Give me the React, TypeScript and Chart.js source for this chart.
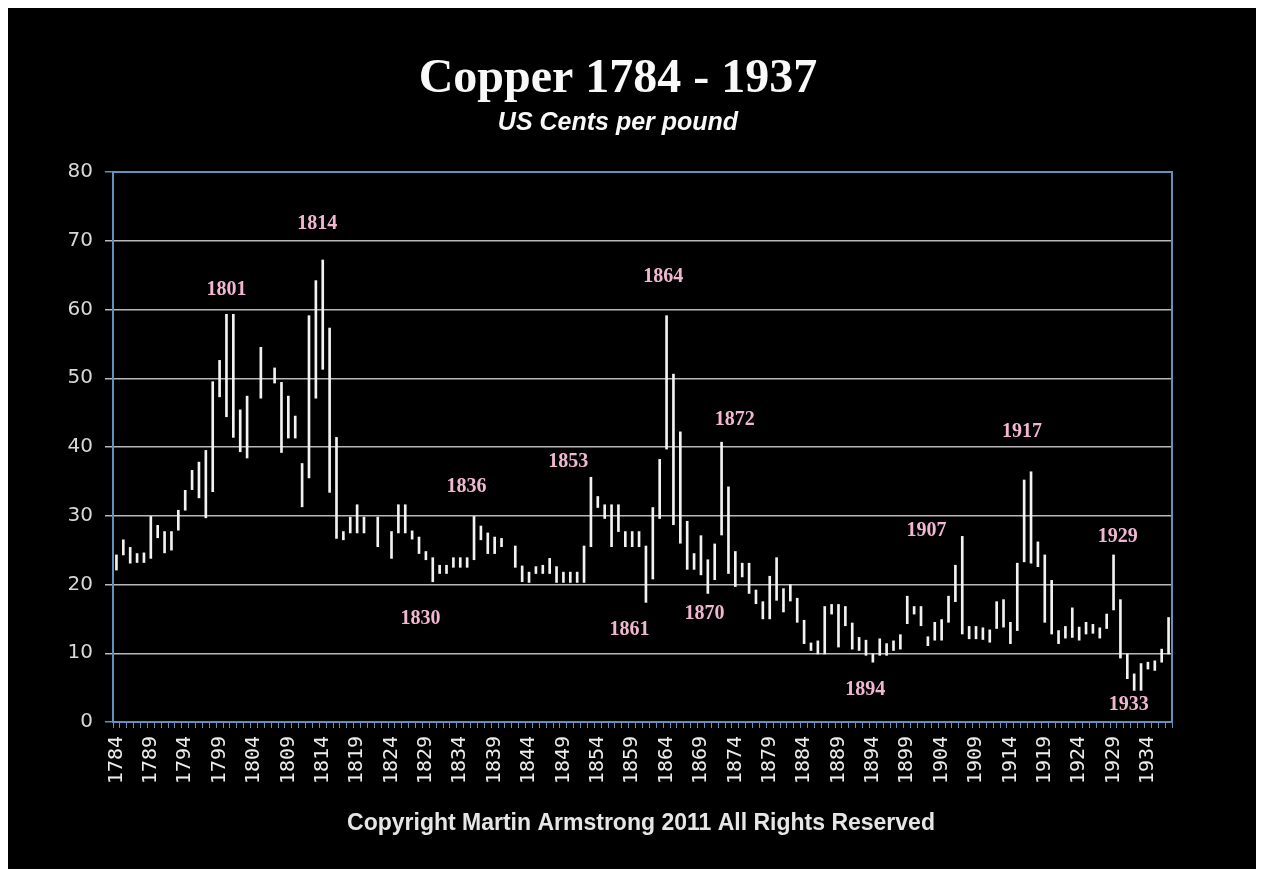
import React, { useEffect, useRef } from 'react';
import { Chart, registerables } from 'chart.js';

Chart.register(...registerables);

const FIRST_YEAR = 1784;
const years: string[] = Array.from({ length: 154 }, (_, i) => String(FIRST_YEAR + i));

const tickLabels = [
  '1784', '1789', '1794', '1799', '1804', '1809', '1814', '1819', '1824', '1829',
  '1834', '1839', '1844', '1849', '1854', '1859', '1864', '1869', '1874', '1879',
  '1884', '1889', '1894', '1899', '1904', '1909', '1914', '1919', '1924', '1929', '1934',
];

// yearly low (US cents per pound)
const lows: (number | null)[] = [
  22.1, 24.3, 23.1, 23.2, 23.2, 23.8,
  26.8, 24.6, 25.0, 27.9, 30.8, 33.8, 32.6, 29.7, 33.5, 47.3,
  44.4, 41.4, 39.3, 38.4, null, 47.1, null, 49.3, 39.2, 41.3,
  41.3, 31.3, 35.5, 47.1, 51.3, 33.4, 26.7, 26.5, 27.5, 27.5,
  27.5, null, 25.5, null, 23.8, 27.5, 27.5, 26.6, 24.5, 23.6,
  20.4, 21.6, 21.6, 22.5, 22.5, 22.5, 23.6, 26.5, 24.5, 24.5,
  25.5, null, 22.5, 20.4, 20.3, 21.6, 21.6, 21.6, 20.3, 20.3,
  20.3, 20.3, 20.3, 25.5, 31.2, 29.6, 25.5, 27.7, 25.5, 25.5,
  25.5, 17.4, 20.8, 29.6, 39.7, 28.7, 26.0, 22.2, 22.2, 21.4,
  18.7, 20.7, 27.2, 21.6, 19.7, 21.1, 18.7, 17.2, 15.0, 15.0,
  17.7, 16.0, 17.6, 14.5, 11.4, 10.4, 9.9, 9.9, 15.7, 10.9,
  14.0, 10.6, 10.4, 9.7, 8.7, 9.7, 9.7, 10.4, 10.6, 14.3,
  15.7, 14.0, 11.1, 11.9, 11.9, 14.5, 17.5, 12.8, 12.1, 12.1,
  12.0, 11.6, 13.6, 13.8, 11.4, 13.3, 23.3, 23.1, 22.6, 14.5,
  12.8, 11.4, 12.2, 12.3, 11.9, 12.8, 12.9, 12.2, 13.6, 16.3,
  9.3, 6.3, 4.6, 4.6, 7.7, 7.5, 8.7, 9.9,
];

// yearly high (US cents per pound)
const highs: (number | null)[] = [
  24.3, 26.5, 25.4, 24.5, 24.6, 29.9,
  28.6, 27.7, 27.7, 30.8, 33.7, 36.6, 37.8, 39.5, 49.5, 52.6,
  59.3, 59.3, 45.4, 47.4, null, 54.5, null, 51.5, 49.4, 47.4,
  44.5, 37.6, 59.1, 64.2, 67.2, 57.3, 41.4, 27.7, 29.8, 31.6,
  29.8, null, 29.8, null, 27.7, 31.6, 31.6, 27.8, 26.9, 24.8,
  23.9, 22.8, 22.8, 23.9, 23.9, 23.9, 29.9, 28.5, 27.5, 26.9,
  26.7, null, 25.6, 22.7, 21.8, 22.6, 22.8, 23.8, 22.6, 21.8,
  21.8, 21.8, 25.6, 35.6, 32.8, 31.6, 31.6, 31.6, 27.7, 27.7,
  27.7, 25.6, 31.2, 38.2, 59.1, 50.6, 42.2, 29.2, 24.5, 27.1,
  23.6, 25.9, 40.7, 34.2, 24.8, 23.1, 23.1, 19.2, 17.5, 21.2,
  23.9, 19.4, 20.0, 18.0, 14.8, 11.5, 11.8, 16.8, 17.1, 17.1,
  16.8, 14.4, 12.3, 11.9, 9.9, 12.1, 11.4, 11.8, 12.7, 18.3,
  16.8, 16.8, 12.4, 14.5, 14.9, 18.3, 22.8, 27.0, 13.9, 13.9,
  13.7, 13.4, 17.5, 17.8, 14.5, 23.1, 35.2, 36.4, 26.2, 24.3,
  20.6, 13.3, 13.9, 16.6, 13.8, 14.5, 14.2, 13.7, 15.7, 24.3,
  17.8, 9.9, 7.0, 8.5, 8.7, 8.9, 10.6, 15.2,
];

// annotation labels: text, year position, value position
const noteTexts = ['1801', '1814', '1836', '1830', '1853', '1864', '1861', '1870', '1872', '1907', '1917', '1894', '1929', '1933'];
const noteYears = [1800.0, 1813.2, 1834.9, 1828.2, 1849.7, 1863.5, 1858.6, 1869.5, 1873.9, 1901.8, 1915.7, 1892.9, 1929.6, 1931.2];
const noteValues = [62.8, 72.4, 34.2, 15.0, 37.8, 64.7, 13.4, 15.7, 43.9, 27.8, 42.2, 4.65, 26.9, 2.5];

const TITLE = 'Copper 1784 - 1937';
const SUBTITLE = 'US Cents per pound';
const FOOTER = 'Copyright Martin Armstrong 2011 All Rights Reserved';

const BLUE = '#5f93bf';
const GRID = '#b8b8b8';
const PINK = '#f0b8d0';

const W = 1248;
const H = 861;

const overlay = {
  id: 'overlay',
  beforeDraw(chart: any) {
    const { ctx } = chart;
    ctx.save();
    ctx.fillStyle = '#000';
    ctx.fillRect(0, 0, chart.width, chart.height);
    ctx.restore();
  },
  afterDatasetsDraw(chart: any) {
    const { ctx, chartArea, scales } = chart;
    ctx.save();
    ctx.strokeStyle = BLUE;
    ctx.lineWidth = 2;
    ctx.strokeRect(chartArea.left, chartArea.top, chartArea.right - chartArea.left, chartArea.bottom - chartArea.top);

    const x0 = scales.x.getPixelForValue(0);
    const step = scales.x.getPixelForValue(1) - x0;
    ctx.fillStyle = PINK;
    ctx.font = 'bold 20px "Liberation Serif"';
    ctx.textAlign = 'center';
    ctx.textBaseline = 'middle';
    noteTexts.forEach((t, i) => {
      const x = x0 + (noteYears[i] - FIRST_YEAR) * step;
      const y = scales.y.getPixelForValue(noteValues[i]);
      ctx.fillText(t, x, y);
    });
    ctx.restore();
  },
  afterDraw(chart: any) {
    const { ctx } = chart;
    ctx.save();
    ctx.textAlign = 'center';
    ctx.textBaseline = 'alphabetic';
    ctx.fillStyle = '#f8f8f8';
    ctx.font = 'bold 48px "Liberation Serif"';
    ctx.fillText(TITLE, 610, 84);
    ctx.font = 'italic bold 25px "Liberation Sans"';
    ctx.fillText(SUBTITLE, 610, 122);
    ctx.fillStyle = '#e6e6e6';
    ctx.font = 'bold 23px "Liberation Sans"';
    ctx.fillText(FOOTER, 633, 822);
    ctx.restore();
  },
};

export default function App() {
  const ref = useRef<HTMLCanvasElement | null>(null);

  useEffect(() => {
    if (!ref.current) return;
    const data = lows.map((l, i) => (l == null || highs[i] == null ? null : [l, highs[i] as number]));
    const chart = new Chart(ref.current, {
      type: 'bar',
      data: {
        labels: years,
        datasets: [
          {
            data: data as any,
            backgroundColor: '#f2f2f2',
            borderWidth: 0,
            barThickness: 2,
          },
        ],
      },
      options: {
        animation: false,
        responsive: false,
        devicePixelRatio: 1,
        layout: { padding: { top: 164, right: 84, bottom: 0, left: 0 } },
        plugins: {
          legend: { display: false },
          tooltip: { enabled: false },
          title: { display: false },
        },
        scales: {
          x: {
            type: 'category',
            offset: true,
            afterFit: (scale: any) => {
              scale.height = 147;
            },
            border: { display: true, color: BLUE, width: 2 },
            grid: {
              display: true,
              drawOnChartArea: false,
              drawTicks: true,
              tickLength: 6,
              color: BLUE,
              lineWidth: 1,
              offset: true,
            },
            ticks: {
              autoSkip: false,
              maxRotation: 90,
              minRotation: 90,
              padding: 8,
              color: '#ececec',
              font: { family: '"DejaVu Sans Mono"', size: 20 },
              callback: (_v: any, idx: number) => (tickLabels.includes(years[idx]) ? years[idx] : ''),
            },
          },
          y: {
            min: 0,
            max: 80,
            afterFit: (scale: any) => {
              scale.width = 105;
            },
            border: { display: true, color: BLUE, width: 2 },
            grid: {
              color: (c: any) => (c.tick && (c.tick.value === 80 || c.tick.value === 0) ? BLUE : GRID),
              lineWidth: 1.5,
              tickLength: 8,
            },
            ticks: {
              stepSize: 10,
              padding: 12,
              color: '#d8d8d8',
              font: { family: '"DejaVu Sans"', size: 20 },
            },
          },
        },
      },
      plugins: [overlay],
    });
    return () => chart.destroy();
  }, []);

  return (
    <div style={{ width: W, height: H, background: '#000' }}>
      <canvas ref={ref} width={W} height={H} style={{ display: 'block' }} />
    </div>
  );
}
